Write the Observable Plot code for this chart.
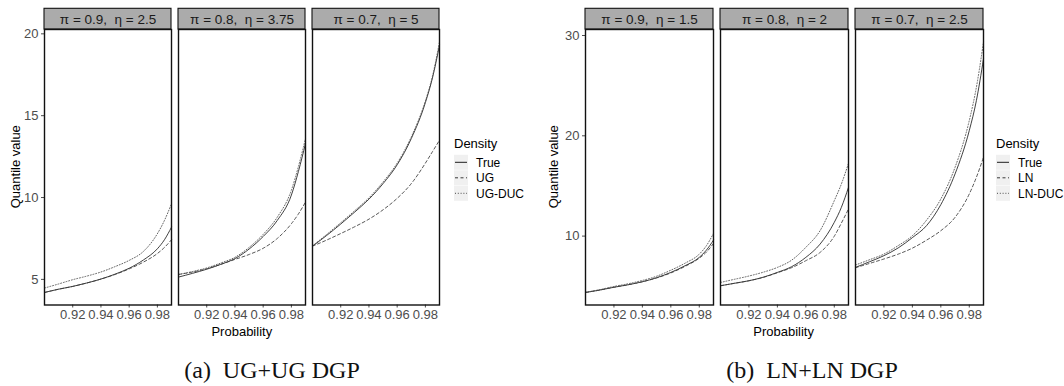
<!DOCTYPE html>
<html><head><meta charset="utf-8">
<script src="https://cdn.jsdelivr.net/npm/d3@7"></script>
<script src="https://cdn.jsdelivr.net/npm/@observablehq/plot@0.6"></script>
<style>
body{margin:0;background:#fff;}
#wrap{position:relative;width:1064px;height:386px;overflow:hidden;background:#fff;}
#wrap svg{position:absolute;top:0;}
</style></head><body><div id="wrap"></div>
<script>
// ---- data ----
const probs = [0.90, 0.91, 0.92, 0.93, 0.94, 0.95, 0.96, 0.97, 0.98, 0.985, 0.99];
const xTicks = [0.92, 0.94, 0.96, 0.98];

const ugFacets = ["π = 0.9,  η = 2.5", "π = 0.8,  η = 3.75", "π = 0.7,  η = 5"];
const ugSeries = ["True", "UG", "UG-DUC"];
const ugTrue = [
  [4.20, 4.40, 4.57, 4.78, 5.02, 5.32, 5.68, 6.18, 6.87, 7.42, 8.19],
  [5.14, 5.37, 5.62, 5.92, 6.27, 6.85, 7.62, 8.60, 10.15, 11.60, 13.30],
  [7.03, 7.68, 8.38, 9.12, 9.90, 10.85, 12.00, 13.60, 15.80, 17.30, 19.30]];
const ugUG = [
  [4.20, 4.40, 4.57, 4.78, 5.02, 5.30, 5.64, 6.05, 6.58, 6.95, 7.42],
  [5.30, 5.45, 5.65, 5.92, 6.22, 6.52, 6.90, 7.50, 8.40, 9.00, 9.72],
  [7.03, 7.40, 7.80, 8.22, 8.68, 9.25, 9.95, 10.85, 12.10, 12.80, 13.50]];
const ugDUC = [
  [4.47, 4.72, 4.98, 5.20, 5.45, 5.78, 6.16, 6.70, 7.79, 8.60, 9.62],
  [5.30, 5.48, 5.70, 6.00, 6.35, 6.95, 7.75, 8.80, 10.45, 11.90, 13.60],
  [7.05, 7.74, 8.46, 9.20, 9.98, 10.95, 12.10, 13.70, 15.90, 17.40, 19.50]];

const lnFacets = ["π = 0.9,  η = 1.5", "π = 0.8,  η = 2", "π = 0.7,  η = 2.5"];
const lnSeries = ["True", "LN", "LN-DUC"];
const lnTrue = [
  [4.38, 4.62, 4.90, 5.15, 5.45, 5.85, 6.38, 7.05, 7.88, 8.60, 9.60],
  [5.05, 5.30, 5.55, 5.90, 6.38, 6.95, 7.88, 9.20, 11.37, 12.87, 14.86],
  [6.88, 7.45, 8.05, 8.82, 9.85, 11.05, 13.14, 16.20, 20.52, 23.51, 27.67]];
const lnLN = [
  [4.38, 4.62, 4.90, 5.15, 5.45, 5.83, 6.33, 6.98, 7.80, 8.40, 9.27],
  [5.05, 5.30, 5.55, 5.88, 6.35, 6.85, 7.55, 8.37, 9.99, 11.30, 12.70],
  [6.85, 7.28, 7.72, 8.20, 8.80, 9.60, 10.54, 11.87, 14.20, 15.86, 17.86]];
const lnDUC = [
  [4.40, 4.66, 4.98, 5.25, 5.58, 6.00, 6.60, 7.30, 8.20, 9.04, 10.27],
  [5.38, 5.70, 6.02, 6.40, 6.88, 7.60, 8.88, 10.54, 13.53, 15.20, 17.26],
  [7.12, 7.65, 8.21, 9.05, 10.04, 11.60, 13.70, 16.86, 21.52, 24.84, 29.35]];

const captions = ["(a)  UG+UG DGP", "(b)  LN+LN DGP"];
const yTicksUG = [5, 10, 15, 20];
const yTicksLN = [10, 20, 30];

// ---- styles ----
const lineStyles = [
  {stroke: "#1f1f1f", strokeWidth: 0.85, strokeDasharray: null},
  {stroke: "#3a3a3a", strokeWidth: 0.85, strokeDasharray: "3,2.5"},
  {stroke: "#4a4a4a", strokeWidth: 0.85, strokeDasharray: "1,1.8"}
];

function rowsFor(facets, series, tables) {
  const out = tables.map(() => []);
  tables.forEach((tab, s) => {
    tab.forEach((vals, f) => {
      vals.forEach((q, k) => out[s].push({facet: facets[f], series: series[s], p: probs[k], q}));
    });
  });
  return out;
}
function padded(tables) {
  const all = tables.flat(2);
  const lo = d3.min(all), hi = d3.max(all), pad = (hi - lo) * 0.05;
  return [lo - pad, hi + pad];
}

function facetChart({facets, series, tables, yTicks, left, width, marginLeft, marginRight}) {
  const height = 340, marginTop = 29, marginBottom = 35.5;
  const xd = [probs[0], probs[probs.length - 1]];
  const yd = padded(tables);
  const panelH = height - marginTop - marginBottom;
  const stripU = 20.7 * (yd[1] - yd[0]) / panelH;
  const strips = facets.map(f => ({facet: f, x1: xd[0], x2: xd[1], y1: yd[1], y2: yd[1] + stripU}));
  const rows = rowsFor(facets, series, tables);
  const svg = Plot.plot({
    width, height, marginLeft, marginRight, marginTop, marginBottom,
    style: {fontFamily: "'Liberation Sans', Arial, sans-serif", fontSize: "13px", color: "#4d4d4d", background: "transparent", overflow: "visible"},
    fx: {domain: facets, paddingInner: 0.055, paddingOuter: 0, axis: null, label: null},
    x: {domain: xd, ticks: xTicks, tickFormat: d => d.toFixed(2), tickSize: 3, tickPadding: 2, label: null},
    y: {domain: yd, ticks: yTicks, tickSize: 3, tickPadding: 3, label: null},
    marks: [
      ...rows.map((r, s) => Plot.line(r, {fx: "facet", x: "p", y: "q", curve: "monotone-x", ...lineStyles[s]})),
      Plot.rect(strips, {fx: "facet", x1: "x1", x2: "x2", y1: "y1", y2: "y2", fill: "#ababab", stroke: "#111", strokeWidth: 1.1}),
      Plot.frame({stroke: "#111", strokeWidth: 1.4}),
      Plot.text(strips, {fx: "facet", text: "facet", frameAnchor: "top", lineAnchor: "middle", dy: -10.3, fontSize: 13.5, fill: "#1a1a1a"})
    ]
  });
  svg.style.left = left + "px";
  return svg;
}

const wrap = document.getElementById("wrap");
wrap.appendChild(facetChart({facets: ugFacets, series: ugSeries, tables: [ugTrue, ugUG, ugDUC], yTicks: yTicksUG, left: 0, width: 445, marginLeft: 43.5, marginRight: 5}));
wrap.appendChild(facetChart({facets: lnFacets, series: lnSeries, tables: [lnTrue, lnLN, lnDUC], yTicks: yTicksLN, left: 530, width: 460, marginLeft: 53.5, marginRight: 6.5}));

// ---- overlay: axis titles, legends, captions ----
const ov = d3.select(wrap).append("svg").attr("width", 1064).attr("height", 386).style("left", "0px")
  .style("font-family", "'Liberation Sans', Arial, sans-serif");
const titles = [
  {xTitle: 241.8, yTitleX: 15, legendX: 454, series: ugSeries, caption: captions[0], capX: 272},
  {xTitle: 783.6, yTitleX: 553.5, legendX: 996, series: lnSeries, caption: captions[1], capX: 812}
];
titles.forEach(t => {
  ov.append("text").attr("x", t.xTitle).attr("y", 336.3).attr("text-anchor", "middle")
    .attr("font-size", 13).attr("fill", "#000").text("Probability");
  ov.append("text").attr("transform", `translate(${t.yTitleX},166.7) rotate(-90)`).attr("text-anchor", "middle")
    .attr("dy", "0.35em").attr("font-size", 13).attr("fill", "#000").text("Quantile value");
  ov.append("text").attr("x", t.legendX).attr("y", 143.3).attr("dy", "0.35em")
    .attr("font-size", 13).attr("fill", "#000").text("Density");
  t.series.forEach((name, i) => {
    const cy = 162.3 + i * 15.5;
    ov.append("rect").attr("x", t.legendX).attr("y", cy - 7.5).attr("width", 14).attr("height", 15)
      .attr("fill", "#f0f0f0");
    ov.append("line").attr("x1", t.legendX + 1).attr("x2", t.legendX + 13).attr("y1", cy).attr("y2", cy)
      .attr("stroke", lineStyles[i].stroke).attr("stroke-width", 1)
      .attr("stroke-dasharray", lineStyles[i].strokeDasharray);
    ov.append("text").attr("x", t.legendX + 22).attr("y", cy).attr("dy", "0.35em")
      .attr("font-size", 12).attr("fill", "#000").text(name);
  });
  ov.append("text").attr("x", t.capX).attr("y", 377.7).attr("text-anchor", "middle")
    .attr("font-family", "'Liberation Serif', 'DejaVu Serif', serif").attr("font-size", 24)
    .style("white-space", "pre").attr("fill", "#111").text(t.caption);
});
</script></body></html>
